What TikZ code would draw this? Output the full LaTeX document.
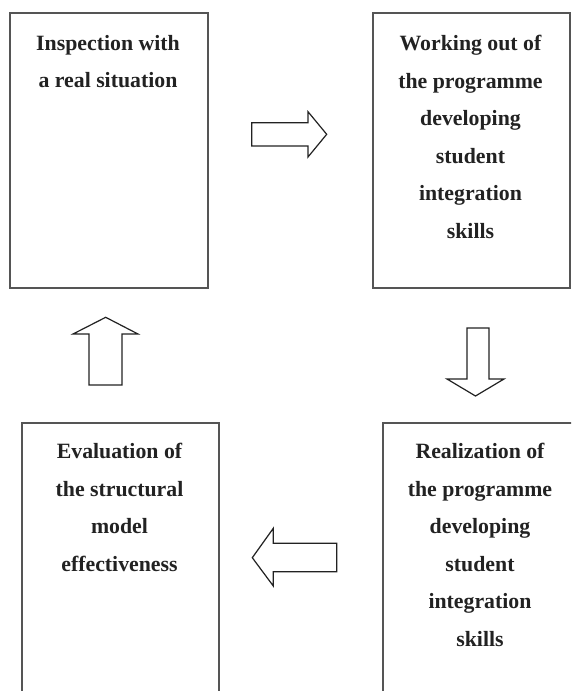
\documentclass[tikz,border=0pt]{standalone}
\usepackage{fontspec}
\setmainfont{Liberation Serif}
\definecolor{boxline}{HTML}{555555}
\definecolor{ink}{HTML}{222222}
\tikzset{
  stagebox/.style={draw=boxline, line width=1.6pt, rectangle, inner sep=0pt, anchor=north west},
  stagetext/.style={anchor=north, inner sep=0pt, align=center, text=ink,
    font=\fontsize{21.8}{37.5}\selectfont\bfseries},
  blockarrow/.style={draw=ink, line width=1.2pt, fill=white, line join=miter}
}
\begin{document}
\begin{tikzpicture}[x=1pt,y=-1pt]
\useasboundingbox (0,0) rectangle (571,691);
\clip (0,0) rectangle (571,691);
\fill[white] (0,0) rectangle (571,691);
% boxes
\node[stagebox, minimum width=198pt, minimum height=275pt] (b1) at (9,12) {};
\node[stagebox, minimum width=197pt, minimum height=275pt] (b2) at (372,12) {};
\node[stagebox, minimum width=197pt, minimum height=290pt] (b3) at (21,422) {};
\node[stagebox, minimum width=198pt, minimum height=290pt] (b4) at (382,422) {};
% texts
\node[stagetext] (t1) at (108,35) {Inspection with\\a real situation};
\node[stagetext] (t2) at (470.5,35) {Working out of\\the programme\\developing\\student\\integration\\skills};
\node[stagetext] (t3) at (119.5,443) {Evaluation of\\the structural\\model\\effectiveness};
\node[stagetext] (t4) at (480,443) {Realization of\\the programme\\developing\\student\\integration\\skills};
% block arrows
\draw[blockarrow] (251.7,122.7) -- (308,122.7) -- (308,111.7) -- (326.7,134.3) -- (308,157) -- (308,146) -- (251.7,146) -- cycle;
\draw[blockarrow] (467,328) -- (489,328) -- (489,379) -- (504,379) -- (475.5,396) -- (447,379) -- (467,379) -- cycle;
\draw[blockarrow] (336.7,543.3) -- (273.3,543.3) -- (273.3,528.3) -- (252.3,557.7) -- (273.3,586) -- (273.3,571.7) -- (336.7,571.7) -- cycle;
\draw[blockarrow] (89,385) -- (89,334) -- (73,334) -- (105.7,317.3) -- (138,334) -- (122,334) -- (122,385) -- cycle;
\end{tikzpicture}
\end{document}
